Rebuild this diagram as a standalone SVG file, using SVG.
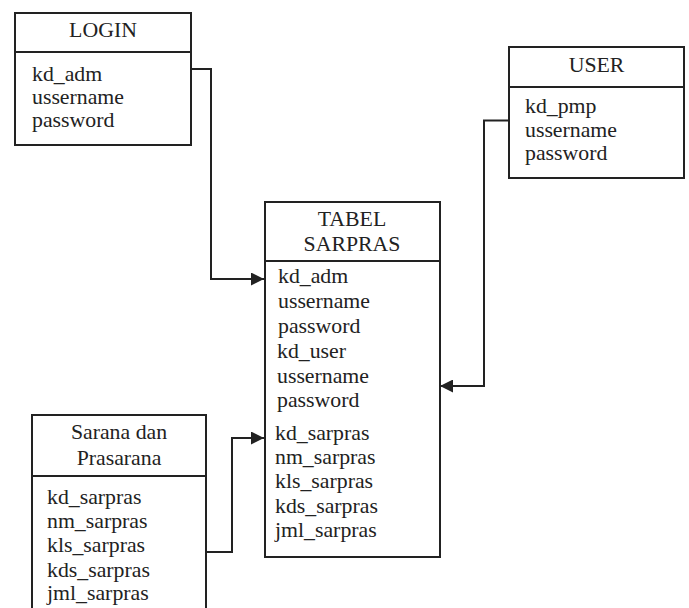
<svg xmlns="http://www.w3.org/2000/svg" width="689" height="608" viewBox="0 0 689 608">
<defs>
<style>
.box{fill:#fff;stroke:#222;stroke-width:2}
.ln{fill:none;stroke:#222;stroke-width:2}
text{font-family:"Liberation Serif","Times New Roman",serif;font-size:21.8px;fill:#222}
.t{text-anchor:middle}
.c{fill:none;stroke:#222;stroke-width:2}
</style>
<marker id="ah" markerWidth="13" markerHeight="13" viewBox="0 0 13 13" refX="13" refY="6.5" orient="auto" markerUnits="userSpaceOnUse">
<path d="M0,0 L13,6.5 L0,13 Z" fill="#222"/>
</marker>
</defs>
<rect width="689" height="608" fill="#fff"/>
<g id="connectors">
<path class="c" d="M191,69 H211 V279 H264" marker-end="url(#ah)"/>
<path class="c" d="M509,120.5 H484 V386 H440" marker-end="url(#ah)"/>
<path class="c" d="M206,552 H232 V438 H264" marker-end="url(#ah)"/>
</g>
<g id="login">
<rect class="box" x="15" y="13" width="176" height="132"/>
<line class="ln" x1="15" y1="52" x2="191" y2="52"/>
<text class="t" x="103" y="37">LOGIN</text>
<text x="32" y="81">kd_adm</text>
<text x="32" y="104">ussername</text>
<text x="32" y="127">password</text>
</g>
<g id="user">
<rect class="box" x="509" y="47" width="175" height="131"/>
<line class="ln" x1="509" y1="87" x2="684" y2="87"/>
<text class="t" x="596.5" y="72">USER</text>
<text x="525" y="113">kd_pmp</text>
<text x="525" y="137">ussername</text>
<text x="525" y="160">password</text>
</g>
<g id="tabel-sarpras">
<rect class="box" x="265" y="202" width="175" height="355"/>
<line class="ln" x1="265" y1="261" x2="440" y2="261"/>
<text class="t" x="352" y="226">TABEL</text>
<text class="t" x="352" y="251">SARPRAS</text>
<text x="278" y="283">kd_adm</text>
<text x="278" y="308">ussername</text>
<text x="278" y="333">password</text>
<text x="277" y="358">kd_user</text>
<text x="277" y="383">ussername</text>
<text x="277" y="407">password</text>
<text x="275" y="440">kd_sarpras</text>
<text x="275" y="464">nm_sarpras</text>
<text x="275" y="488">kls_sarpras</text>
<text x="275" y="512.5">kds_sarpras</text>
<text x="275" y="536.5">jml_sarpras</text>
</g>
<g id="sarana-prasarana">
<rect class="box" x="32" y="415" width="174" height="210"/>
<line class="ln" x1="32" y1="476" x2="206" y2="476"/>
<text class="t" x="119" y="439">Sarana dan</text>
<text class="t" x="119" y="465">Prasarana</text>
<text x="47" y="504">kd_sarpras</text>
<text x="47" y="528">nm_sarpras</text>
<text x="47" y="552">kls_sarpras</text>
<text x="47" y="576.5">kds_sarpras</text>
<text x="47" y="600">jml_sarpras</text>
</g>
</svg>
